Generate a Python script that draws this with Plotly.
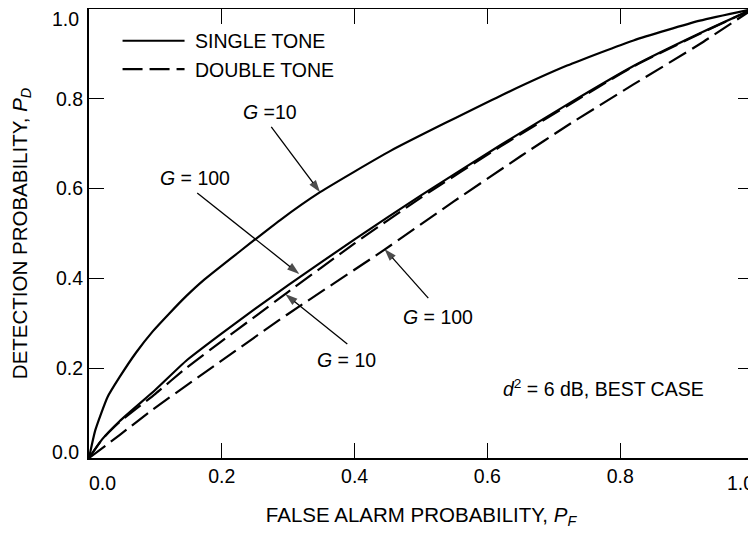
import plotly.graph_objects as go

# ---- data ----
single_g10_x = [0, 0.0095, 0.028, 0.046, 0.071, 0.096, 0.121, 0.146, 0.171, 0.288, 0.348, 0.454, 0.62, 0.72, 0.82, 0.92, 1.0]
single_g10_y = [0, 0.062, 0.136, 0.180, 0.235, 0.282, 0.322, 0.360, 0.394, 0.530, 0.592, 0.684, 0.807, 0.874, 0.930, 0.974, 1.0]

single_g100_x = [0, 0.02, 0.046, 0.1, 0.146, 0.197, 0.25, 0.3, 0.4, 0.5, 0.62, 0.72, 0.82, 0.92, 1.0]
single_g100_y = [0, 0.042, 0.082, 0.152, 0.216, 0.274, 0.332, 0.385, 0.487, 0.585, 0.697, 0.787, 0.873, 0.946, 1.0]

double_g10_x = [0, 0.02, 0.046, 0.1, 0.146, 0.197, 0.25, 0.3, 0.4, 0.5, 0.62, 0.72, 0.82, 0.92, 1.0]
double_g10_y = [0, 0.042, 0.080, 0.143, 0.200, 0.257, 0.315, 0.370, 0.478, 0.580, 0.694, 0.784, 0.872, 0.945, 1.0]

double_g100_x = [0, 0.046, 0.096, 0.197, 0.297, 0.444, 0.55, 0.65, 0.72, 0.82, 0.92, 1.0]
double_g100_y = [0, 0.051, 0.108, 0.214, 0.318, 0.463, 0.572, 0.672, 0.740, 0.832, 0.922, 1.0]

tick_vals = [0.2, 0.4, 0.6, 0.8]
tick_text = ["0.2", "0.4", "0.6", "0.8"]

FONT = "Liberation Sans, Arial, Helvetica, sans-serif"
DASH = "20px,7px"
LW = 2.2
FS = 19.5

fig = go.Figure()
fig.add_trace(go.Scatter(x=single_g10_x, y=single_g10_y, mode="lines",
                         line=dict(color="black", width=LW, shape="spline", smoothing=0.5),
                         name=" SINGLE TONE", legendgroup="s", showlegend=True))
fig.add_trace(go.Scatter(x=single_g100_x, y=single_g100_y, mode="lines",
                         line=dict(color="black", width=LW, shape="spline", smoothing=0.5),
                         name=" SINGLE TONE", legendgroup="s", showlegend=False))
fig.add_trace(go.Scatter(x=double_g10_x, y=double_g10_y, mode="lines",
                         line=dict(color="black", width=LW, dash=DASH, shape="spline", smoothing=0.5),
                         name=" DOUBLE TONE", legendgroup="d", showlegend=True))
fig.add_trace(go.Scatter(x=double_g100_x, y=double_g100_y, mode="lines",
                         line=dict(color="black", width=LW, dash=DASH, shape="spline", smoothing=0.5),
                         name=" DOUBLE TONE", legendgroup="d", showlegend=False))

# pointer arrows: (tail x, tail y, head x, head y) -> drawn as line + arrow marker at the head
arrows = [
    (0.2745, 0.7375, 0.348, 0.592),
    (0.163, 0.590, 0.3167, 0.410),
    (0.511, 0.356, 0.445, 0.4656),
    (0.389, 0.254, 0.2956, 0.365),
]
for tx, ty, hx, hy in arrows:
    fig.add_trace(go.Scatter(x=[tx, hx], y=[ty, hy], mode="lines+markers",
                             line=dict(color="black", width=1.3),
                             marker=dict(symbol="arrow", size=[0, 13], angleref="previous",
                                         color="black", line=dict(width=0)),
                             showlegend=False, hoverinfo="skip", cliponaxis=False))

axis_common = dict(
    range=[0, 1], showline=True, linewidth=2, linecolor="black", mirror="ticks",
    ticks="inside", ticklen=15, tickwidth=1.3, tickcolor="black",
    tickvals=tick_vals, ticktext=tick_text, showgrid=False, zeroline=False,
    tickfont=dict(family=FONT, size=FS, color="black"), automargin=False,
)

fig.update_layout(
    width=748, height=526,
    margin=dict(l=81, r=3, t=1, b=76),
    paper_bgcolor="white", plot_bgcolor="white",
    font=dict(family=FONT, size=FS, color="black"),
    xaxis=dict(**axis_common,
               title=dict(text="FALSE ALARM PROBABILITY, <i>P<sub>F</sub></i>",
                          font=dict(family=FONT, size=20.5), standoff=21)),
    yaxis=dict(**axis_common,
               title=dict(text="DETECTION PROBABILITY, <i>P<sub>D</sub></i>",
                          font=dict(family=FONT, size=20.5), standoff=28)),
    legend=dict(x=0.043, y=0.972, xanchor="left", yanchor="top",
                bgcolor="rgba(0,0,0,0)", borderwidth=0, itemwidth=62,
                font=dict(family=FONT, size=FS), tracegroupgap=0),
)

# end tick labels shifted off the corners
end_labels = [
    dict(x=0, y=0, text="0.0", xanchor="center", yanchor="top", xshift=13, yshift=-12),
    dict(x=1, y=0, text="1.0", xanchor="center", yanchor="top", xshift=-13, yshift=-12),
    dict(x=0, y=1, text="1.0", xanchor="right", yanchor="middle", xshift=-8, yshift=-10),
    dict(x=0, y=0, text="0.0", xanchor="right", yanchor="middle", xshift=-8, yshift=6),
]
for a in end_labels:
    fig.add_annotation(showarrow=False, xref="x", yref="y", font=dict(family=FONT, size=FS), **a)

labels = [
    (0.273, 0.771, "<i>G</i> =10"),
    (0.159, 0.624, "<i>G</i> = 100"),
    (0.525, 0.314, "<i>G</i> = 100"),
    (0.388, 0.218, "<i>G</i> = 10"),
]
for lx, ly, t in labels:
    fig.add_annotation(x=lx, y=ly, xref="x", yref="y", text=t, showarrow=False,
                       xanchor="center", yanchor="middle", font=dict(family=FONT, size=FS))

fig.add_annotation(x=0.929, y=0.156, xref="x", yref="y", text="<i>d</i><sup>2</sup> = 6 dB, BEST CASE",
                   showarrow=False, xanchor="right", yanchor="middle", font=dict(family=FONT, size=FS))

fig.write_html("out.html")
